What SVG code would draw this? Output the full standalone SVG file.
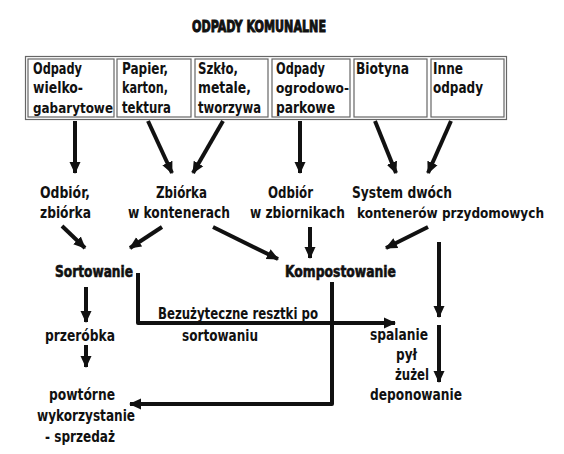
<svg xmlns="http://www.w3.org/2000/svg" width="564" height="454" viewBox="0 0 564 454">
<style>
text{font-family:"Liberation Sans Narrow","Arial Narrow","DejaVu Sans Condensed",sans-serif;font-weight:bold;fill:#111;font-size:16px}
.h{stroke:#111;stroke-width:0.6px}
.cell{fill:#fff;stroke:#666;stroke-width:1.2}
.ln{fill:none;stroke:#111;stroke-width:4;stroke-linejoin:round}
</style>
<defs>
<marker id="ah" markerUnits="userSpaceOnUse" markerWidth="12" markerHeight="12" viewBox="0 0 12 12" refX="11" refY="6" orient="auto">
<path d="M0,0.5 L12,6 L0,11.5 z" fill="#111"/>
</marker>
</defs>
<rect width="564" height="454" fill="#fff"/>
<g id="title"><text class="h" x="192" y="32" textLength="134" lengthAdjust="spacingAndGlyphs" style="font-size:15.5px;stroke-width:0.9px">ODPADY KOMUNALNE</text></g>
<g id="table">
<rect x="25.5" y="56.5" width="481" height="63" fill="none" stroke="#666" stroke-width="1.2"/>
<rect class="cell" x="28" y="59" width="86" height="58"/>
<rect class="cell" x="117" y="59" width="74" height="58"/>
<rect class="cell" x="195" y="59" width="73" height="58"/>
<rect class="cell" x="272" y="59" width="78" height="58"/>
<rect class="cell" x="354" y="59" width="73" height="58"/>
<rect class="cell" x="431" y="59" width="73" height="58"/>
</g>
<g id="n1"><text x="33" y="74" textLength="49" lengthAdjust="spacingAndGlyphs">Odpady</text><text x="33" y="93" textLength="50" lengthAdjust="spacingAndGlyphs">wielko-</text><text x="33" y="113" textLength="80" lengthAdjust="spacingAndGlyphs" style="font-size:13.5px">gabarytowe</text></g>
<g id="n2"><text x="122" y="74" textLength="46" lengthAdjust="spacingAndGlyphs">Papier,</text><text x="122" y="93" textLength="46" lengthAdjust="spacingAndGlyphs">karton,</text><text x="122" y="113" textLength="49" lengthAdjust="spacingAndGlyphs">tektura</text></g>
<g id="n3"><text x="198" y="74" textLength="40" lengthAdjust="spacingAndGlyphs">Szkło,</text><text x="198" y="93" textLength="53" lengthAdjust="spacingAndGlyphs">metale,</text><text x="198" y="113" textLength="63" lengthAdjust="spacingAndGlyphs" style="font-size:15px">tworzywa</text></g>
<g id="n4"><text x="276" y="74" textLength="49" lengthAdjust="spacingAndGlyphs">Odpady</text><text x="276" y="93" textLength="73" lengthAdjust="spacingAndGlyphs" style="font-size:14.5px">ogrodowo-</text><text x="276" y="113" textLength="59" lengthAdjust="spacingAndGlyphs">parkowe</text></g>
<g id="n5"><text x="356" y="74" textLength="53" lengthAdjust="spacingAndGlyphs">Biotyna</text></g>
<g id="n6"><text x="433" y="74" textLength="30" lengthAdjust="spacingAndGlyphs">Inne</text><text x="433" y="93" textLength="50" lengthAdjust="spacingAndGlyphs">odpady</text></g>
<g id="odbior1"><text x="40" y="198" textLength="50" lengthAdjust="spacingAndGlyphs">Odbiór,</text><text x="40" y="218" textLength="51" lengthAdjust="spacingAndGlyphs">zbiórka</text></g>
<g id="zbiorka"><text x="156" y="198" textLength="51" lengthAdjust="spacingAndGlyphs">Zbiórka</text><text x="128" y="218" textLength="102" lengthAdjust="spacingAndGlyphs">w kontenerach</text></g>
<g id="odbior2"><text x="268" y="198" textLength="45" lengthAdjust="spacingAndGlyphs">Odbiór</text><text x="250" y="218" textLength="95" lengthAdjust="spacingAndGlyphs">w zbiornikach</text></g>
<g id="system"><text x="352" y="198" textLength="100" lengthAdjust="spacingAndGlyphs">System dwóch</text><text x="357" y="218" textLength="187" lengthAdjust="spacingAndGlyphs" style="font-size:14px">kontenerów przydomowych</text></g>
<g id="sortowanie"><text class="h" x="55" y="277" textLength="78" lengthAdjust="spacingAndGlyphs">Sortowanie</text></g>
<g id="kompostowanie"><text class="h" x="285" y="277" textLength="111" lengthAdjust="spacingAndGlyphs">Kompostowanie</text></g>
<g id="przerobka"><text x="45" y="341" textLength="70" lengthAdjust="spacingAndGlyphs">przeróbka</text></g>
<g id="powtorne"><text x="49" y="400" textLength="66" lengthAdjust="spacingAndGlyphs">powtórne</text><text x="37" y="421" textLength="98" lengthAdjust="spacingAndGlyphs">wykorzystanie</text><text x="45" y="442" textLength="70" lengthAdjust="spacingAndGlyphs">- sprzedaż</text></g>
<g id="spalanie"><text x="370" y="340" textLength="58" lengthAdjust="spacingAndGlyphs">spalanie</text><text x="396" y="360" textLength="21" lengthAdjust="spacingAndGlyphs">pył</text><text x="395" y="380" textLength="34" lengthAdjust="spacingAndGlyphs">żużel</text><text x="370" y="400" textLength="92" lengthAdjust="spacingAndGlyphs">deponowanie</text></g>
<g id="connectors">
<line class="ln" x1="75" y1="121" x2="75" y2="173" marker-end="url(#ah)"/>
<line class="ln" x1="148" y1="121" x2="172" y2="173" marker-end="url(#ah)"/>
<line class="ln" x1="223" y1="121" x2="193" y2="173" marker-end="url(#ah)"/>
<line class="ln" x1="300" y1="121" x2="300" y2="173" marker-end="url(#ah)"/>
<line class="ln" x1="375" y1="121" x2="396" y2="173" marker-end="url(#ah)"/>
<line class="ln" x1="451" y1="121" x2="428" y2="173" marker-end="url(#ah)"/>
<line class="ln" x1="62" y1="226" x2="85" y2="248" marker-end="url(#ah)"/>
<line class="ln" x1="162" y1="227" x2="130" y2="248" marker-end="url(#ah)"/>
<line class="ln" x1="213" y1="227" x2="278" y2="259" marker-end="url(#ah)"/>
<line class="ln" x1="310" y1="227" x2="310" y2="258" marker-end="url(#ah)"/>
<line class="ln" x1="428" y1="227" x2="386" y2="248" marker-end="url(#ah)"/>
<line class="ln" x1="439" y1="242" x2="439" y2="317" marker-end="url(#ah)"/>
<line class="ln" x1="86" y1="287" x2="86" y2="322" marker-end="url(#ah)"/>
<line class="ln" x1="86" y1="345" x2="86" y2="367" marker-end="url(#ah)"/>
<path class="ln" d="M138,273 V323 H395" marker-end="url(#ah)"/>
<path class="ln" d="M332,282 V404 H130" marker-end="url(#ah)"/>
<line class="ln" x1="439" y1="325" x2="439" y2="382" marker-end="url(#ah)"/>
</g>
<g id="label-bez"><text x="158" y="319" textLength="160" lengthAdjust="spacingAndGlyphs">Bezużyteczne resztki po</text><text x="182" y="341" textLength="76" lengthAdjust="spacingAndGlyphs">sortowaniu</text></g>
</svg>
